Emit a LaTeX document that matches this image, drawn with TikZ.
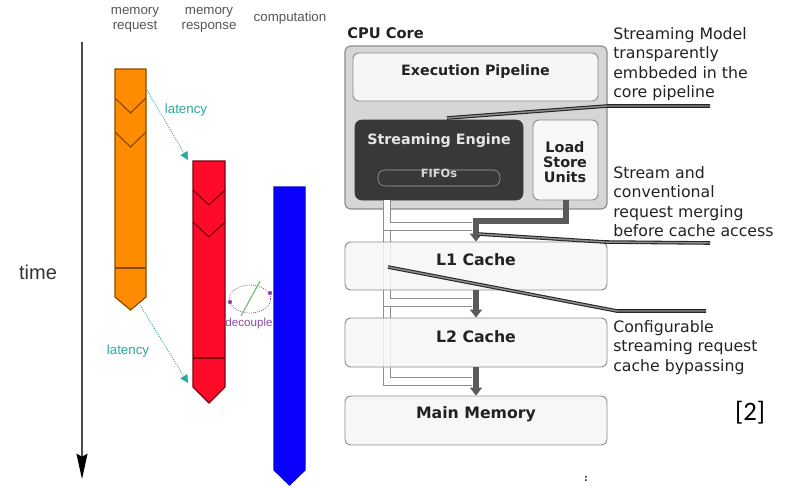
\documentclass[tikz,border=0pt]{standalone}
\usepackage{fontspec}
\setmainfont{DejaVu Sans}
\newfontfamily\arialfont{Liberation Sans}
\newfontfamily\calfont{Carlito}
\usetikzlibrary{arrows.meta,fit}
\definecolor{orfill}{HTML}{FF8C00}
\definecolor{orline}{HTML}{8A4A00}
\definecolor{rdfill}{HTML}{FF0A28}
\definecolor{rdline}{HTML}{7A0010}
\definecolor{blfill}{HTML}{0A00FF}
\definecolor{tealc}{HTML}{2AAA9C}
\definecolor{purp}{HTML}{8A4AA0}
\definecolor{grn}{HTML}{6AB86A}
\definecolor{coregray}{HTML}{D6D6D6}
\definecolor{boxline}{HTML}{8C8C8C}
\definecolor{lightbox}{HTML}{F6F6F6}
\definecolor{sedark}{HTML}{383838}
\definecolor{arrgray}{HTML}{5A5A5A}
\definecolor{txtgray}{HTML}{222222}
\definecolor{lblgray}{HTML}{555555}
\begin{document}
\begin{tikzpicture}[x=0.75pt,y=-0.75pt,
  every node/.style={inner sep=0pt},
  lbltext/.style={font=\arialfont\fontsize{10}{11.25}\selectfont, text=lblgray, align=center},
  bar/.style={line width=0.9pt, line join=miter},
  chev/.style={line width=0.9pt},
  lat/.style={tealc, densely dotted, line width=0.7pt, -{Triangle[length=6pt,width=6pt]}},
  lattext/.style={font=\arialfont\fontsize{10}{12}\selectfont, text=tealc},
  corebox/.style={draw=boxline, fill=coregray, rounded corners=4.5pt, line width=0.9pt},
  lbox/.style={draw=boxline, fill=lightbox, rounded corners=4.5pt, line width=0.7pt},
  cbox/.style={draw=boxline, fill=lightbox, fill opacity=0.85, text opacity=1, rounded corners=4.5pt, line width=0.7pt},
  boxfont/.style={font=\bfseries\fontsize{10.7}{12.8}\selectfont, text=txtgray},
  cachefont/.style={font=\bfseries\fontsize{11.8}{14}\selectfont, text=txtgray},
  call/.style={font=\fontsize{11.8}{14.6}\selectfont, text=txtgray, align=left, anchor=north west},
  callline/.style={draw=black!85, double=black!45, double distance=1.1pt, line width=0.8pt},
  pipe/.style={draw=black!45, double=white, double distance=5.2pt, line width=0.7pt},
  darr/.style={arrgray, line width=5pt, -{Triangle[length=6pt,width=9pt]}}
]
\useasboundingbox (0,0) rectangle (788,487);

% ---------------- left: timeline ----------------
\node[lbltext] (lreq) at (135,20) {memory\\request};
\node[lbltext] (lresp) at (209,20) {memory\\response};
\node[lbltext] (lcomp) at (290,18) {computation};

\coordinate (ttop) at (82,42);
\coordinate (tbot) at (82,478);
\draw[black!70, line width=2.2pt, -{Stealth[length=19pt,width=8pt,inset=2pt,black]}, shorten >=-1pt] (ttop) -- (tbot);
\node[font=\arialfont\fontsize{15}{18}\selectfont, text=black!80] (time) at (38,272) {time};

% orange bar
\draw[bar, fill=orfill, draw=orline] (115,69) -- (146,69) -- (146,297) -- (130.5,310) -- (115,297) -- cycle;
\draw[chev, orline] (115,98) -- (130.5,113) -- (146,98);
\draw[chev, orline] (115,132) -- (130.5,147) -- (146,132);
\draw[chev, orline] (115,268) -- (146,268);
% red bar
\draw[bar, fill=rdfill, draw=rdline] (193,161) -- (225,161) -- (225,387) -- (209,403) -- (193,387) -- cycle;
\draw[chev, rdline] (193,190) -- (209,205) -- (225,190);
\draw[chev, rdline] (193,222) -- (209,237) -- (225,222);
\draw[chev, rdline] (193,358) -- (225,358);
% blue bar
\draw[bar, fill=blfill, draw=blfill!80!black] (274,187) -- (305,187) -- (305,470) -- (289.5,485) -- (274,470) -- cycle;

% latency arrows
\coordinate (la1s) at (147,90);
\coordinate (la1e) at (188,160);
\coordinate (la2s) at (140,305);
\coordinate (la2e) at (188,383);
\draw[lat] (la1s) -- (la1e);
\draw[lat] (la2s) -- (la2e);
\node[lattext] (lat1) at (186,110) {latency};
\node[lattext] (lat2) at (128,351) {latency};

% decouple
\coordinate (dc) at (250,299);
\draw[purp, densely dotted, line width=0.6pt] (dc) ellipse [x radius=15.5pt, y radius=10.5pt];
\fill[purp] (230,302) circle[radius=1.6pt];
\fill[purp] (270,293) circle[radius=1.6pt];
\coordinate (g1) at (241,316);
\coordinate (g2) at (260,281);
\draw[grn, line width=0.8pt] (g1) -- (g2);
\node[font=\arialfont\fontsize{8.7}{10}\selectfont, text=purp] (dec) at (249,323) {decouple};

% ---------------- right: architecture ----------------
\node[font=\bfseries\fontsize{11}{13}\selectfont, text=txtgray, anchor=west] (cpu) at (347,33) {CPU Core};
\node[corebox, fit={(345,46) (607,209)}] (core) {};
\node[lbox, boxfont, fit={(353,53) (598,101)}] (exec) {Execution Pipeline};
\node[draw=sedark, fill=sedark, rounded corners=5pt, fit={(355,120) (523,200)}] (se) {};
\node[boxfont, text=black!10] (setext) at (439,141) {Streaming Engine};
\node[draw=black!35, fill=sedark, rounded corners=5pt, fit={(378,170) (500,186)}, font=\bfseries\fontsize{8.5}{9}\selectfont, text=black!15] (fifo) {FIFOs};
\node[lbox, fill=white!97!black, fit={(533,120) (598,200)}] (lsu) {};
\node[font=\bfseries\fontsize{10.8}{11.3}\selectfont, text=txtgray, align=center] (lsutext) at (565,162) {Load\\Store\\Units};

% bypass pipes
\coordinate (px) at (387,200);
\coordinate (pe) at (472,0);
\draw[pipe] (px) -- (387,381.5) -- (pe |- 0,381.5);
\draw[pipe] (px) -- (387,302.5) -- (pe |- 0,302.5);
\draw[pipe] (px) -- (387,226.5) -- (pe |- 0,226.5);

% caches
\node[cbox, cachefont, fit={(345,242) (607,290)}] (l1) {L1 Cache};
\node[cbox, cachefont, fit={(345,318) (607,367)}] (l2) {L2 Cache};
\node[cbox, cachefont, fit={(345,396) (607,445)}] (mm) {Main Memory};

% dark data arrows
\coordinate (dx) at (476,0);
\draw[darr] (lsu.south -| 566,0) -- (566,221) -- (476,221) -- (l1.north -| dx);
\draw[darr] (l1.south -| dx) -- (l2.north -| dx);
\draw[darr] (l2.south -| dx) -- (mm.north -| dx);

% callouts
\node[call] (c1) at (613,27) {Streaming Model\\transparently\\embbeded in the\\core pipeline};
\node[call] (c2) at (613,166) {Stream and\\conventional\\request merging\\before cache access};
\node[call] (c3) at (613,320) {Configurable\\streaming request\\cache bypassing};
\coordinate (c1a) at (710,106);
\coordinate (c1b) at (607,106);
\coordinate (c1c) at (447,118);
\draw[callline] (c1a) -- (c1b) -- (c1c);
\coordinate (c2a) at (710,243);
\coordinate (c2b) at (605,242);
\coordinate (c2c) at (478,234);
\draw[callline] (c2a) -- (c2b) -- (c2c);
\coordinate (c3a) at (706,311);
\coordinate (c3b) at (617,311);
\coordinate (c3c) at (388,267);
\draw[callline] (c3a) -- (c3b) -- (c3c);

\node[font=\calfont\fontsize{20}{24}\selectfont, text=black] (ref) at (750,413) {[2]};
\node[font=\bfseries\fontsize{7}{8}\selectfont, text=black!80] (colon) at (586,479) {:};
\end{tikzpicture}
\end{document}
